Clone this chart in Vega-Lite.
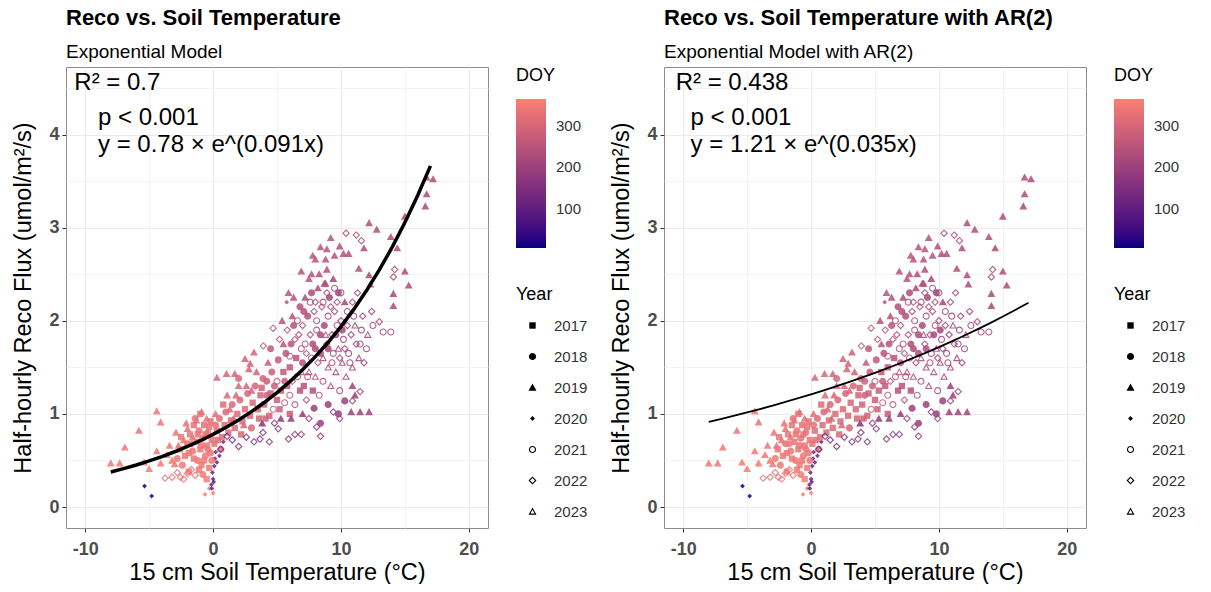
{
"$schema": "https://vega.github.io/schema/vega-lite/v6.json",
"padding": {"left": 11, "top": 6, "right": 0, "bottom": 0},
"spacing": 20,
"datasets": {
"pts": [
{"temp":-8.0,"flux":0.47,"DOY":345,"Year":2019},{"temp":-7.3,"flux":0.47,"DOY":345,"Year":2019},{"temp":-6.9,"flux":0.64,"DOY":342,"Year":2019},{"temp":-5.8,"flux":0.82,"DOY":340,"Year":2019},{"temp":-5.4,"flux":0.48,"DOY":350,"Year":2019},{"temp":-5.0,"flux":0.41,"DOY":352,"Year":2019},{"temp":-4.4,"flux":1.03,"DOY":338,"Year":2019},{"temp":-4.4,"flux":0.6,"DOY":348,"Year":2019},{"temp":-4.1,"flux":0.91,"DOY":336,"Year":2019},{"temp":-4.1,"flux":0.47,"DOY":350,"Year":2019},{"temp":-3.4,"flux":0.66,"DOY":340,"Year":2019},{"temp":-3.0,"flux":0.46,"DOY":346,"Year":2019},{"temp":-2.7,"flux":0.66,"DOY":338,"Year":2019},{"temp":-2.0,"flux":0.84,"DOY":332,"Year":2019},{"temp":-1.3,"flux":0.93,"DOY":330,"Year":2019},{"temp":-0.9,"flux":1.02,"DOY":328,"Year":2019},{"temp":-1.6,"flux":0.75,"DOY":334,"Year":2019},{"temp":-2.3,"flux":0.72,"DOY":336,"Year":2019},{"temp":-0.5,"flux":0.95,"DOY":326,"Year":2019},{"temp":-3.6,"flux":0.56,"DOY":344,"Year":2019},
{"temp":-3.75,"flux":0.31,"DOY":330,"Year":2022},{"temp":-3.2,"flux":0.32,"DOY":332,"Year":2022},{"temp":-2.8,"flux":0.37,"DOY":330,"Year":2022},{"temp":-2.55,"flux":0.32,"DOY":335,"Year":2022},{"temp":-2.3,"flux":0.3,"DOY":336,"Year":2022},{"temp":-2.0,"flux":0.36,"DOY":334,"Year":2022},{"temp":-1.7,"flux":0.4,"DOY":332,"Year":2022},{"temp":-1.4,"flux":0.34,"DOY":330,"Year":2022},
{"temp":-5.36,"flux":0.225,"DOY":8,"Year":2020},{"temp":-4.8,"flux":0.118,"DOY":12,"Year":2020},{"temp":-0.63,"flux":0.136,"DOY":355,"Year":2020},{"temp":0.0,"flux":0.15,"DOY":358,"Year":2020},{"temp":-0.3,"flux":0.2,"DOY":350,"Year":2020},
{"temp":-0.13,"flux":0.24,"DOY":105,"Year":2020},{"temp":0.0,"flux":0.3,"DOY":110,"Year":2020},{"temp":-0.05,"flux":0.37,"DOY":112,"Year":2020},{"temp":0.1,"flux":0.44,"DOY":115,"Year":2020},{"temp":0.15,"flux":0.52,"DOY":118,"Year":2020},{"temp":0.5,"flux":0.55,"DOY":122,"Year":2020},{"temp":0.2,"flux":0.59,"DOY":120,"Year":2020},{"temp":0.8,"flux":0.7,"DOY":128,"Year":2020},{"temp":-0.1,"flux":0.2,"DOY":100,"Year":2020},{"temp":0.05,"flux":0.27,"DOY":108,"Year":2020},{"temp":0.3,"flux":0.48,"DOY":116,"Year":2020},
{"temp":-2.6,"flux":0.62,"DOY":340,"Year":2017},{"temp":-2.2,"flux":0.55,"DOY":342,"Year":2017},{"temp":-2.0,"flux":0.68,"DOY":338,"Year":2018},{"temp":-1.8,"flux":0.78,"DOY":335,"Year":2017},{"temp":-1.6,"flux":0.6,"DOY":340,"Year":2018},{"temp":-1.5,"flux":0.88,"DOY":330,"Year":2017},{"temp":-1.3,"flux":0.7,"DOY":336,"Year":2017},{"temp":-1.2,"flux":0.5,"DOY":344,"Year":2018},{"temp":-1.1,"flux":0.82,"DOY":332,"Year":2018},{"temp":-1.0,"flux":0.62,"DOY":338,"Year":2017},{"temp":-0.9,"flux":0.45,"DOY":346,"Year":2017},{"temp":-0.8,"flux":0.74,"DOY":334,"Year":2018},{"temp":-0.7,"flux":0.88,"DOY":328,"Year":2017},{"temp":-0.6,"flux":0.55,"DOY":340,"Year":2018},{"temp":-0.5,"flux":0.66,"DOY":336,"Year":2017},{"temp":-0.4,"flux":0.8,"DOY":330,"Year":2018},{"temp":-0.3,"flux":0.42,"DOY":344,"Year":2017},{"temp":-0.2,"flux":0.92,"DOY":326,"Year":2017},{"temp":-0.2,"flux":0.58,"DOY":338,"Year":2018},{"temp":-0.1,"flux":0.72,"DOY":332,"Year":2017},{"temp":-2.4,"flux":0.45,"DOY":346,"Year":2018},{"temp":-1.9,"flux":0.38,"DOY":348,"Year":2017},{"temp":-1.4,"flux":0.95,"DOY":330,"Year":2018},{"temp":-0.8,"flux":0.35,"DOY":350,"Year":2018},{"temp":-0.5,"flux":0.3,"DOY":352,"Year":2017},{"temp":-1.0,"flux":1.0,"DOY":328,"Year":2017},
{"temp":-2.8,"flux":0.52,"DOY":342,"Year":2018},{"temp":-2.5,"flux":0.75,"DOY":336,"Year":2017},{"temp":-2.1,"flux":0.9,"DOY":330,"Year":2019},{"temp":-1.9,"flux":0.58,"DOY":340,"Year":2017},{"temp":-1.7,"flux":0.68,"DOY":338,"Year":2018},{"temp":-1.5,"flux":0.52,"DOY":342,"Year":2017},{"temp":-1.2,"flux":0.78,"DOY":334,"Year":2017},{"temp":-1.1,"flux":0.4,"DOY":346,"Year":2017},{"temp":-0.9,"flux":0.66,"DOY":338,"Year":2018},{"temp":-0.7,"flux":0.5,"DOY":342,"Year":2017},{"temp":-0.6,"flux":0.78,"DOY":330,"Year":2017},{"temp":-0.4,"flux":0.62,"DOY":336,"Year":2018},{"temp":-0.3,"flux":0.86,"DOY":328,"Year":2017},{"temp":-0.1,"flux":0.5,"DOY":340,"Year":2018},{"temp":0.1,"flux":0.68,"DOY":330,"Year":2017},{"temp":0.2,"flux":0.88,"DOY":322,"Year":2018},{"temp":0.4,"flux":0.72,"DOY":322,"Year":2017},{"temp":0.6,"flux":0.62,"DOY":320,"Year":2018},{"temp":-3.2,"flux":0.5,"DOY":344,"Year":2019},{"temp":-2.9,"flux":0.8,"DOY":336,"Year":2019},
{"temp":0.3,"flux":0.82,"DOY":318,"Year":2017},{"temp":0.5,"flux":0.95,"DOY":315,"Year":2018},{"temp":0.7,"flux":0.75,"DOY":318,"Year":2017},{"temp":0.9,"flux":0.88,"DOY":312,"Year":2017},{"temp":1.0,"flux":1.02,"DOY":310,"Year":2018},{"temp":1.2,"flux":0.8,"DOY":314,"Year":2017},{"temp":1.4,"flux":0.93,"DOY":310,"Year":2017},{"temp":1.5,"flux":1.1,"DOY":306,"Year":2018},{"temp":1.7,"flux":0.85,"DOY":312,"Year":2017},{"temp":1.9,"flux":1.0,"DOY":308,"Year":2017},{"temp":2.1,"flux":1.15,"DOY":304,"Year":2018},{"temp":2.3,"flux":0.92,"DOY":308,"Year":2017},{"temp":2.5,"flux":1.05,"DOY":305,"Year":2017},{"temp":2.7,"flux":1.22,"DOY":300,"Year":2018},{"temp":2.9,"flux":0.98,"DOY":304,"Year":2017},{"temp":3.1,"flux":1.12,"DOY":300,"Year":2017},{"temp":3.3,"flux":1.3,"DOY":296,"Year":2018},{"temp":3.5,"flux":1.05,"DOY":300,"Year":2017},{"temp":3.7,"flux":1.2,"DOY":296,"Year":2017},{"temp":3.9,"flux":1.38,"DOY":292,"Year":2018},
{"temp":1.3,"flux":1.05,"DOY":308,"Year":2019},{"temp":1.8,"flux":1.2,"DOY":304,"Year":2019},{"temp":2.2,"flux":0.78,"DOY":306,"Year":2017},{"temp":2.6,"flux":1.3,"DOY":298,"Year":2019},{"temp":3.0,"flux":0.85,"DOY":302,"Year":2018},{"temp":3.4,"flux":1.45,"DOY":292,"Year":2019},{"temp":3.6,"flux":0.95,"DOY":298,"Year":2017},{"temp":3.8,"flux":1.28,"DOY":292,"Year":2017},{"temp":4.2,"flux":1.2,"DOY":288,"Year":2018},{"temp":4.4,"flux":0.98,"DOY":290,"Year":2017},{"temp":4.8,"flux":1.3,"DOY":282,"Year":2018},{"temp":5.2,"flux":1.05,"DOY":282,"Year":2017},{"temp":5.6,"flux":1.35,"DOY":275,"Year":2018},{"temp":6.0,"flux":1.0,"DOY":270,"Year":2017},{"temp":0.8,"flux":1.1,"DOY":312,"Year":2017},{"temp":2.0,"flux":1.38,"DOY":300,"Year":2018},{"temp":1.6,"flux":0.95,"DOY":310,"Year":2019},
{"temp":0.3,"flux":1.39,"DOY":300,"Year":2019},{"temp":1.05,"flux":1.43,"DOY":298,"Year":2019},{"temp":1.7,"flux":1.43,"DOY":296,"Year":2019},{"temp":2.8,"flux":1.48,"DOY":294,"Year":2019},{"temp":2.5,"flux":1.59,"DOY":290,"Year":2019},{"temp":2.9,"flux":1.54,"DOY":290,"Year":2019},{"temp":3.2,"flux":1.66,"DOY":288,"Year":2019},{"temp":0.2,"flux":1.0,"DOY":320,"Year":2019},{"temp":1.1,"flux":1.2,"DOY":310,"Year":2019},{"temp":2.0,"flux":1.3,"DOY":300,"Year":2019},{"temp":3.0,"flux":1.25,"DOY":298,"Year":2019},{"temp":2.4,"flux":0.88,"DOY":300,"Year":2019},
{"temp":1.1,"flux":0.76,"DOY":150,"Year":2022},{"temp":2.0,"flux":0.65,"DOY":155,"Year":2022},{"temp":3.67,"flux":0.73,"DOY":165,"Year":2022},{"temp":3.9,"flux":0.8,"DOY":168,"Year":2022},{"temp":4.4,"flux":0.7,"DOY":170,"Year":2022},{"temp":5.1,"flux":0.84,"DOY":172,"Year":2022},{"temp":5.9,"flux":0.73,"DOY":175,"Year":2022},{"temp":6.4,"flux":0.78,"DOY":178,"Year":2022},{"temp":6.9,"flux":0.78,"DOY":180,"Year":2022},{"temp":8.1,"flux":0.86,"DOY":185,"Year":2022},{"temp":8.4,"flux":0.76,"DOY":186,"Year":2022},{"temp":9.4,"flux":1.02,"DOY":190,"Year":2022},{"temp":9.9,"flux":0.95,"DOY":192,"Year":2022},{"temp":10.9,"flux":1.14,"DOY":195,"Year":2022},{"temp":11.5,"flux":1.24,"DOY":196,"Year":2022},{"temp":1.5,"flux":0.72,"DOY":152,"Year":2022},{"temp":4.8,"flux":0.9,"DOY":170,"Year":2022},
{"temp":3.2,"flux":0.7,"DOY":160,"Year":2022},{"temp":2.6,"flux":0.75,"DOY":158,"Year":2022},{"temp":0.6,"flux":0.62,"DOY":140,"Year":2022},{"temp":7.5,"flux":0.95,"DOY":188,"Year":2022},
{"temp":3.84,"flux":0.9,"DOY":160,"Year":2019},{"temp":5.3,"flux":0.95,"DOY":180,"Year":2019},{"temp":6.1,"flux":0.95,"DOY":185,"Year":2019},{"temp":7.9,"flux":1.06,"DOY":195,"Year":2018},{"temp":8.4,"flux":0.9,"DOY":196,"Year":2018},{"temp":10.3,"flux":1.14,"DOY":200,"Year":2018},{"temp":10.8,"flux":1.02,"DOY":205,"Year":2019},{"temp":11.5,"flux":1.02,"DOY":205,"Year":2019},{"temp":12.2,"flux":1.02,"DOY":208,"Year":2019},{"temp":10.9,"flux":1.3,"DOY":200,"Year":2019},{"temp":11.1,"flux":1.2,"DOY":202,"Year":2019},{"temp":9.8,"flux":1.0,"DOY":198,"Year":2018},{"temp":7.0,"flux":1.0,"DOY":185,"Year":2019},{"temp":9.0,"flux":1.1,"DOY":195,"Year":2018},
{"temp":4.0,"flux":1.1,"DOY":285,"Year":2017},{"temp":4.2,"flux":1.35,"DOY":280,"Year":2018},{"temp":4.3,"flux":1.55,"DOY":270,"Year":2019},{"temp":4.1,"flux":0.95,"DOY":285,"Year":2017},
{"temp":4.5,"flux":1.22,"DOY":280,"Year":2017},{"temp":4.6,"flux":1.45,"DOY":275,"Year":2018},{"temp":4.7,"flux":1.05,"DOY":270,"Year":2021},{"temp":4.5,"flux":1.7,"DOY":265,"Year":2018},
{"temp":5.0,"flux":1.15,"DOY":275,"Year":2017},{"temp":5.0,"flux":1.35,"DOY":270,"Year":2021},{"temp":5.1,"flux":1.58,"DOY":262,"Year":2018},{"temp":5.2,"flux":1.8,"DOY":255,"Year":2022},{"temp":5.3,"flux":1.25,"DOY":268,"Year":2017},{"temp":5.4,"flux":2.0,"DOY":250,"Year":2019},
{"temp":5.5,"flux":1.45,"DOY":262,"Year":2017},{"temp":5.6,"flux":1.12,"DOY":270,"Year":2021},{"temp":5.7,"flux":1.65,"DOY":255,"Year":2018},{"temp":5.8,"flux":1.9,"DOY":248,"Year":2022},{"temp":5.8,"flux":1.3,"DOY":262,"Year":2017},
{"temp":6.0,"flux":1.2,"DOY":260,"Year":2021},{"temp":6.0,"flux":1.5,"DOY":255,"Year":2017},{"temp":6.1,"flux":1.75,"DOY":248,"Year":2018},{"temp":6.2,"flux":2.05,"DOY":240,"Year":2019},{"temp":6.2,"flux":1.35,"DOY":255,"Year":2022},{"temp":6.3,"flux":1.95,"DOY":245,"Year":2018},{"temp":6.4,"flux":1.1,"DOY":258,"Year":2021},
{"temp":6.5,"flux":1.6,"DOY":250,"Year":2017},{"temp":6.6,"flux":1.4,"DOY":252,"Year":2021},{"temp":6.7,"flux":1.85,"DOY":240,"Year":2022},{"temp":6.8,"flux":2.15,"DOY":235,"Year":2018},{"temp":6.8,"flux":1.25,"DOY":250,"Year":2017},{"temp":6.9,"flux":1.7,"DOY":245,"Year":2021},
{"temp":7.0,"flux":1.55,"DOY":245,"Year":2018},{"temp":7.0,"flux":1.95,"DOY":238,"Year":2022},{"temp":7.1,"flux":1.3,"DOY":248,"Year":2017},{"temp":7.2,"flux":2.25,"DOY":230,"Year":2019},{"temp":7.2,"flux":1.75,"DOY":240,"Year":2021},{"temp":7.3,"flux":1.15,"DOY":245,"Year":2022},{"temp":7.4,"flux":2.05,"DOY":235,"Year":2018},
{"temp":7.5,"flux":1.45,"DOY":240,"Year":2023},{"temp":7.6,"flux":1.85,"DOY":235,"Year":2022},{"temp":7.7,"flux":2.3,"DOY":228,"Year":2018},{"temp":7.7,"flux":1.6,"DOY":238,"Year":2021},{"temp":7.8,"flux":1.25,"DOY":240,"Year":2017},{"temp":7.9,"flux":2.1,"DOY":230,"Year":2022},
{"temp":8.0,"flux":1.7,"DOY":232,"Year":2018},{"temp":8.0,"flux":1.4,"DOY":235,"Year":2023},{"temp":8.1,"flux":2.0,"DOY":228,"Year":2021},{"temp":8.2,"flux":2.35,"DOY":225,"Year":2019},{"temp":8.2,"flux":1.55,"DOY":232,"Year":2022},{"temp":8.3,"flux":1.2,"DOY":236,"Year":2021},{"temp":8.4,"flux":1.85,"DOY":228,"Year":2018},
{"temp":8.5,"flux":2.15,"DOY":225,"Year":2022},{"temp":8.6,"flux":1.6,"DOY":228,"Year":2023},{"temp":8.6,"flux":1.35,"DOY":230,"Year":2021},{"temp":8.7,"flux":1.95,"DOY":224,"Year":2018},{"temp":8.8,"flux":2.4,"DOY":220,"Year":2019},{"temp":8.9,"flux":1.75,"DOY":225,"Year":2022},
{"temp":9.0,"flux":2.05,"DOY":222,"Year":2021},{"temp":9.0,"flux":1.5,"DOY":225,"Year":2023},{"temp":9.1,"flux":2.25,"DOY":220,"Year":2018},{"temp":9.2,"flux":1.3,"DOY":226,"Year":2023},{"temp":9.3,"flux":1.85,"DOY":222,"Year":2022},{"temp":9.4,"flux":2.45,"DOY":218,"Year":2019},{"temp":9.4,"flux":1.65,"DOY":222,"Year":2021},
{"temp":9.5,"flux":2.1,"DOY":218,"Year":2022},{"temp":9.6,"flux":1.45,"DOY":222,"Year":2023},{"temp":9.7,"flux":1.95,"DOY":218,"Year":2021},{"temp":9.8,"flux":2.3,"DOY":215,"Year":2018},{"temp":9.8,"flux":1.7,"DOY":220,"Year":2023},{"temp":9.9,"flux":1.25,"DOY":222,"Year":2021},
{"temp":10.0,"flux":2.0,"DOY":215,"Year":2022},{"temp":10.1,"flux":1.55,"DOY":218,"Year":2023},{"temp":10.2,"flux":1.8,"DOY":215,"Year":2021},{"temp":10.3,"flux":2.2,"DOY":212,"Year":2019},{"temp":10.4,"flux":1.4,"DOY":216,"Year":2023},{"temp":10.5,"flux":1.95,"DOY":212,"Year":2022},
{"temp":10.6,"flux":1.65,"DOY":212,"Year":2021},{"temp":10.8,"flux":1.85,"DOY":210,"Year":2022},{"temp":10.9,"flux":1.5,"DOY":212,"Year":2023},{"temp":11.0,"flux":2.05,"DOY":208,"Year":2021},{"temp":11.2,"flux":1.75,"DOY":208,"Year":2022},{"temp":11.4,"flux":1.6,"DOY":206,"Year":2023},{"temp":11.6,"flux":1.9,"DOY":205,"Year":2021},{"temp":11.8,"flux":1.55,"DOY":204,"Year":2022},
{"temp":6.0,"flux":1.62,"DOY":255,"Year":2021},{"temp":6.3,"flux":2.25,"DOY":242,"Year":2019},{"temp":6.6,"flux":2.0,"DOY":240,"Year":2021},{"temp":6.9,"flux":1.45,"DOY":248,"Year":2023},{"temp":7.1,"flux":2.1,"DOY":236,"Year":2018},{"temp":7.3,"flux":1.65,"DOY":242,"Year":2022},{"temp":7.6,"flux":2.2,"DOY":232,"Year":2021},{"temp":7.8,"flux":1.75,"DOY":236,"Year":2018},{"temp":8.0,"flux":2.2,"DOY":230,"Year":2022},{"temp":8.1,"flux":1.9,"DOY":230,"Year":2021},{"temp":8.3,"flux":2.5,"DOY":232,"Year":2019},{"temp":8.4,"flux":1.65,"DOY":232,"Year":2018},{"temp":8.6,"flux":2.2,"DOY":226,"Year":2021},{"temp":8.8,"flux":1.85,"DOY":226,"Year":2023},{"temp":8.9,"flux":2.3,"DOY":224,"Year":2022},{"temp":9.0,"flux":1.7,"DOY":226,"Year":2018},{"temp":9.2,"flux":2.15,"DOY":222,"Year":2022},{"temp":9.3,"flux":1.55,"DOY":224,"Year":2021},{"temp":9.5,"flux":2.35,"DOY":220,"Year":2021},{"temp":9.6,"flux":1.85,"DOY":220,"Year":2018},{"temp":9.7,"flux":2.2,"DOY":218,"Year":2022},{"temp":9.9,"flux":1.6,"DOY":220,"Year":2022},{"temp":10.0,"flux":2.3,"DOY":215,"Year":2021},{"temp":10.1,"flux":1.9,"DOY":215,"Year":2018},{"temp":10.3,"flux":1.7,"DOY":214,"Year":2022},{"temp":10.5,"flux":2.1,"DOY":212,"Year":2021},{"temp":10.7,"flux":1.55,"DOY":212,"Year":2021},{"temp":10.9,"flux":2.2,"DOY":210,"Year":2022},{"temp":11.1,"flux":1.95,"DOY":208,"Year":2023},{"temp":11.3,"flux":2.3,"DOY":208,"Year":2022},{"temp":11.5,"flux":1.75,"DOY":206,"Year":2021},{"temp":11.7,"flux":2.05,"DOY":205,"Year":2022},{"temp":12.1,"flux":1.85,"DOY":205,"Year":2023},{"temp":12.4,"flux":2.1,"DOY":206,"Year":2022},{"temp":7.4,"flux":1.4,"DOY":240,"Year":2021},{"temp":6.4,"flux":1.8,"DOY":245,"Year":2022},{"temp":5.5,"flux":1.75,"DOY":255,"Year":2019},{"temp":5.9,"flux":2.3,"DOY":250,"Year":2019},
{"temp":6.9,"flux":2.53,"DOY":250,"Year":2019},{"temp":7.7,"flux":2.5,"DOY":248,"Year":2019},{"temp":7.5,"flux":2.45,"DOY":250,"Year":2019},{"temp":8.9,"flux":2.55,"DOY":240,"Year":2019},{"temp":8.7,"flux":2.4,"DOY":242,"Year":2019},{"temp":11.4,"flux":2.56,"DOY":232,"Year":2019},{"temp":12.2,"flux":2.49,"DOY":230,"Year":2019},{"temp":12.3,"flux":2.39,"DOY":230,"Year":2019},
{"temp":9.2,"flux":2.89,"DOY":245,"Year":2019},{"temp":8.4,"flux":2.79,"DOY":252,"Year":2019},{"temp":8.9,"flux":2.77,"DOY":248,"Year":2019},{"temp":9.9,"flux":2.8,"DOY":240,"Year":2019},{"temp":7.8,"flux":2.7,"DOY":255,"Year":2019},{"temp":8.0,"flux":2.66,"DOY":252,"Year":2019},{"temp":9.5,"flux":2.7,"DOY":245,"Year":2019},{"temp":10.2,"flux":2.72,"DOY":240,"Year":2019},{"temp":10.6,"flux":2.72,"DOY":238,"Year":2019},{"temp":8.8,"flux":2.66,"DOY":250,"Year":2019},
{"temp":10.4,"flux":2.94,"DOY":235,"Year":2022},{"temp":11.2,"flux":2.92,"DOY":232,"Year":2022},{"temp":11.6,"flux":2.86,"DOY":230,"Year":2022},
{"temp":11.8,"flux":2.78,"DOY":232,"Year":2019},{"temp":12.2,"flux":3.05,"DOY":235,"Year":2019},{"temp":12.8,"flux":2.98,"DOY":232,"Year":2019},{"temp":13.9,"flux":2.9,"DOY":230,"Year":2019},{"temp":14.4,"flux":2.78,"DOY":228,"Year":2019},{"temp":15.0,"flux":3.12,"DOY":228,"Year":2019},{"temp":16.7,"flux":3.54,"DOY":225,"Year":2019},{"temp":17.2,"flux":3.52,"DOY":225,"Year":2019},{"temp":16.7,"flux":3.36,"DOY":224,"Year":2019},{"temp":16.6,"flux":3.23,"DOY":224,"Year":2019},{"temp":15.0,"flux":2.53,"DOY":225,"Year":2019},{"temp":15.3,"flux":2.38,"DOY":225,"Year":2019},{"temp":14.1,"flux":2.29,"DOY":222,"Year":2019},{"temp":14.1,"flux":2.16,"DOY":222,"Year":2019},
{"temp":14.2,"flux":2.55,"DOY":225,"Year":2022},{"temp":14.1,"flux":2.47,"DOY":225,"Year":2022},{"temp":13.0,"flux":1.99,"DOY":218,"Year":2022},
{"temp":13.3,"flux":1.88,"DOY":215,"Year":2021},{"temp":13.9,"flux":1.88,"DOY":215,"Year":2021},{"temp":12.5,"flux":1.95,"DOY":212,"Year":2021},{"temp":12.0,"flux":1.7,"DOY":210,"Year":2021},
{"temp":5.76,"flux":2.2,"DOY":245,"Year":2020},{"temp":4.7,"flux":1.92,"DOY":255,"Year":2022},{"temp":3.93,"flux":1.73,"DOY":262,"Year":2022}
],
"fitA": [
{"temp":-8,"flux":0.3766},{"temp":-7,"flux":0.4125},{"temp":-6,"flux":0.4518},{"temp":-5,"flux":0.4949},{"temp":-4,"flux":0.542},{"temp":-3,"flux":0.5937},{"temp":-2,"flux":0.6502},{"temp":-1,"flux":0.7122},{"temp":0,"flux":0.78},{"temp":1,"flux":0.8543},{"temp":2,"flux":0.9357},{"temp":3,"flux":1.0248},{"temp":4,"flux":1.1225},{"temp":5,"flux":1.2294},{"temp":6,"flux":1.3465},{"temp":7,"flux":1.4748},{"temp":8,"flux":1.6153},{"temp":9,"flux":1.7692},{"temp":10,"flux":1.9378},{"temp":11,"flux":2.1224},{"temp":12,"flux":2.3246},{"temp":13,"flux":2.546},{"temp":14,"flux":2.7886},{"temp":15,"flux":3.0543},{"temp":16,"flux":3.3452},{"temp":17,"flux":3.6639}
],
"fitB": [
{"temp":-8,"flux":0.9145},{"temp":-7,"flux":0.9471},{"temp":-6,"flux":0.9808},{"temp":-5,"flux":1.0157},{"temp":-4,"flux":1.0519},{"temp":-3,"flux":1.0894},{"temp":-2,"flux":1.1282},{"temp":-1,"flux":1.1684},{"temp":0,"flux":1.21},{"temp":1,"flux":1.2531},{"temp":2,"flux":1.2977},{"temp":3,"flux":1.344},{"temp":4,"flux":1.3918},{"temp":5,"flux":1.4414},{"temp":6,"flux":1.4928},{"temp":7,"flux":1.5459},{"temp":8,"flux":1.601},{"temp":9,"flux":1.658},{"temp":10,"flux":1.7171},{"temp":11,"flux":1.7782},{"temp":12,"flux":1.8416},{"temp":13,"flux":1.9072},{"temp":14,"flux":1.9751},{"temp":15,"flux":2.0455},{"temp":16,"flux":2.1183},{"temp":17,"flux":2.1938}
],
"annA": [
{"label":"R² = 0.7","temp":-10.85,"flux":4.475},{"label":"p < 0.001","temp":-9.0,"flux":4.102},{"label":"y = 0.78 × e^(0.091x)","temp":-9.0,"flux":3.812}
],
"annB": [
{"label":"R² = 0.438","temp":-10.59,"flux":4.475},{"label":"p < 0.001","temp":-9.42,"flux":4.102},{"label":"y = 1.21 × e^(0.035x)","temp":-9.42,"flux":3.812}
]
},
"resolve": {"scale": {"color": "independent", "shape": "independent"}, "legend": {"color": "independent", "shape": "independent"}},
"hconcat": [
{
"width": 422, "height": 461,
"title": {"text": "Reco vs. Soil Temperature", "subtitle": "Exponential Model"},
"encoding": {
"x": {"field": "temp", "type": "quantitative", "scale": {"domain": [-11.5, 21.5], "nice": false, "zero": false},
 "axis": {"title": "15 cm Soil Temperature (°C)", "values": [-10,-5,0,5,10,15,20],
  "labelExpr": "datum.value % 10 === 0 ? toString(datum.value) : ''",
  "gridColor": {"condition": {"test": "datum.value % 10 === 0", "value": "#EBEBEB"}, "value": "#F3F3F3"},
  "tickColor": {"condition": {"test": "datum.value % 10 === 0", "value": "#333333"}, "value": "transparent"}}},
"y": {"field": "flux", "type": "quantitative", "scale": {"domain": [-0.225, 4.725], "nice": false, "zero": false},
 "axis": {"title": "Half-hourly Reco Flux (umol/m²/s)", "values": [0,0.5,1,1.5,2,2.5,3,3.5,4,4.5],
  "labelExpr": "datum.value % 1 === 0 ? toString(datum.value) : ''",
  "gridColor": {"condition": {"test": "datum.value % 1 === 0", "value": "#EBEBEB"}, "value": "#F3F3F3"},
  "tickColor": {"condition": {"test": "datum.value % 1 === 0", "value": "#333333"}, "value": "transparent"}}}
},
"layer": [
{"mark": {"type": "rule", "color": "black", "strokeWidth": 1.6}, "encoding": {"x": {"datum": 0}}},
{"mark": {"type": "rule", "color": "black", "strokeWidth": 1.6}, "encoding": {"y": {"datum": 0}}},
{"data": {"name": "pts"},
 "mark": {"type": "point", "filled": true, "size": 62, "opacity": 0.85},
 "encoding": {
  "color": {"field": "DOY", "type": "quantitative", "scale": {"domain": [6, 365], "range": ["#000080", "#FA8072"], "interpolate": "lab"}, "legend": {"type": "gradient", "values": [100, 200, 300], "title": "DOY", "labelOffset": 10}},
  "shape": {"field": "Year", "type": "nominal", "scale": {"domain": [2017,2018,2019,2020,2021,2022,2023], "range": [
   "M-0.8,-0.8L0.8,-0.8L0.8,0.8L-0.8,0.8Z",
   "M0.9,0A0.9,0.9,0,1,1,-0.9,0A0.9,0.9,0,1,1,0.9,0Z",
   "M0,-1L1,0.8L-1,0.8Z",
   "M0,-0.6L0.6,0L0,0.6L-0.6,0Z",
   "M0.9,0A0.9,0.9,0,1,1,-0.9,0A0.9,0.9,0,1,1,0.9,0ZM0.62,0A0.62,0.62,0,1,0,-0.62,0A0.62,0.62,0,1,0,0.62,0Z",
   "M0,-1L1,0L0,1L-1,0ZM0,-0.6L-0.6,0L0,0.6L0.6,0Z",
   "M0,-1L1,0.8L-1,0.8ZM0,-0.42L-0.525,0.52L0.525,0.52Z"]},
   "legend": {"title": "Year"}}}},
{"data": {"name": "fitA"}, "mark": {"type": "line", "color": "black", "strokeWidth": 3.5}, "encoding": {}},
{"data": {"name": "annA"}, "mark": {"type": "text", "align": "left", "baseline": "alphabetic", "fontSize": 24, "color": "black"}, "encoding": {"text": {"field": "label"}}}
]
},
{
"width": 422, "height": 461,
"title": {"text": "Reco vs. Soil Temperature with AR(2)", "subtitle": "Exponential Model with AR(2)"},
"encoding": {
"x": {"field": "temp", "type": "quantitative", "scale": {"domain": [-11.5, 21.5], "nice": false, "zero": false},
 "axis": {"title": "15 cm Soil Temperature (°C)", "values": [-10,-5,0,5,10,15,20],
  "labelExpr": "datum.value % 10 === 0 ? toString(datum.value) : ''",
  "gridColor": {"condition": {"test": "datum.value % 10 === 0", "value": "#EBEBEB"}, "value": "#F3F3F3"},
  "tickColor": {"condition": {"test": "datum.value % 10 === 0", "value": "#333333"}, "value": "transparent"}}},
"y": {"field": "flux", "type": "quantitative", "scale": {"domain": [-0.225, 4.725], "nice": false, "zero": false},
 "axis": {"title": "Half-hourly Reco Flux (umol/m²/s)", "values": [0,0.5,1,1.5,2,2.5,3,3.5,4,4.5],
  "labelExpr": "datum.value % 1 === 0 ? toString(datum.value) : ''",
  "gridColor": {"condition": {"test": "datum.value % 1 === 0", "value": "#EBEBEB"}, "value": "#F3F3F3"},
  "tickColor": {"condition": {"test": "datum.value % 1 === 0", "value": "#333333"}, "value": "transparent"}}}
},
"layer": [
{"mark": {"type": "rule", "color": "black", "strokeWidth": 1.6}, "encoding": {"x": {"datum": 0}}},
{"mark": {"type": "rule", "color": "black", "strokeWidth": 1.6}, "encoding": {"y": {"datum": 0}}},
{"data": {"name": "pts"},
 "mark": {"type": "point", "filled": true, "size": 62, "opacity": 0.85},
 "encoding": {
  "color": {"field": "DOY", "type": "quantitative", "scale": {"domain": [6, 365], "range": ["#000080", "#FA8072"], "interpolate": "lab"}, "legend": {"type": "gradient", "values": [100, 200, 300], "title": "DOY", "labelOffset": 10}},
  "shape": {"field": "Year", "type": "nominal", "scale": {"domain": [2017,2018,2019,2020,2021,2022,2023], "range": [
   "M-0.8,-0.8L0.8,-0.8L0.8,0.8L-0.8,0.8Z",
   "M0.9,0A0.9,0.9,0,1,1,-0.9,0A0.9,0.9,0,1,1,0.9,0Z",
   "M0,-1L1,0.8L-1,0.8Z",
   "M0,-0.6L0.6,0L0,0.6L-0.6,0Z",
   "M0.9,0A0.9,0.9,0,1,1,-0.9,0A0.9,0.9,0,1,1,0.9,0ZM0.62,0A0.62,0.62,0,1,0,-0.62,0A0.62,0.62,0,1,0,0.62,0Z",
   "M0,-1L1,0L0,1L-1,0ZM0,-0.6L-0.6,0L0,0.6L0.6,0Z",
   "M0,-1L1,0.8L-1,0.8ZM0,-0.42L-0.525,0.52L0.525,0.52Z"]},
   "legend": {"title": "Year"}}}},
{"data": {"name": "fitB"}, "mark": {"type": "line", "color": "black", "strokeWidth": 1.8}, "encoding": {}},
{"data": {"name": "annB"}, "mark": {"type": "text", "align": "left", "baseline": "alphabetic", "fontSize": 24, "color": "black"}, "encoding": {"text": {"field": "label"}}}
]
}
],
"config": {
"font": "Liberation Sans",
"view": {"stroke": "#8C8C8C", "strokeWidth": 1},
"axis": {"domain": false, "grid": true, "gridWidth": 1, "labelFontWeight": "bold", "labelColor": "#4D4D4D", "labelFontSize": 18, "titleFontSize": 23.5, "titleFontWeight": "normal", "titleColor": "#000000", "tickSize": 4, "labelPadding": 3},
"axisX": {"titlePadding": 2, "labelPadding": 8},
"axisY": {"titlePadding": 13},
"title": {"anchor": "start", "frame": "group", "fontSize": 22, "fontWeight": "bold", "color": "#000000", "subtitleFontSize": 19, "subtitleColor": "#000000", "subtitlePadding": 13, "offset": 4},
"legend": {"titleFontSize": 18, "titleFontWeight": "normal", "titleColor": "#000000", "labelFontSize": 15, "labelColor": "#333333", "offset": 28, "padding": 0, "titlePadding": 14, "gradientLength": 149, "gradientThickness": 30, "gradientStrokeWidth": 0, "gradientOpacity": 1, "symbolOpacity": 1, "symbolFillColor": "black", "symbolBaseFillColor": "black", "symbolStrokeWidth": 0, "symbolStrokeColor": "transparent", "rowPadding": 15, "symbolSize": 64, "symbolOffset": 9, "labelOffset": 14, "layout": {"right": {"anchor": "start", "direction": "vertical", "margin": 38}}}
}
}
